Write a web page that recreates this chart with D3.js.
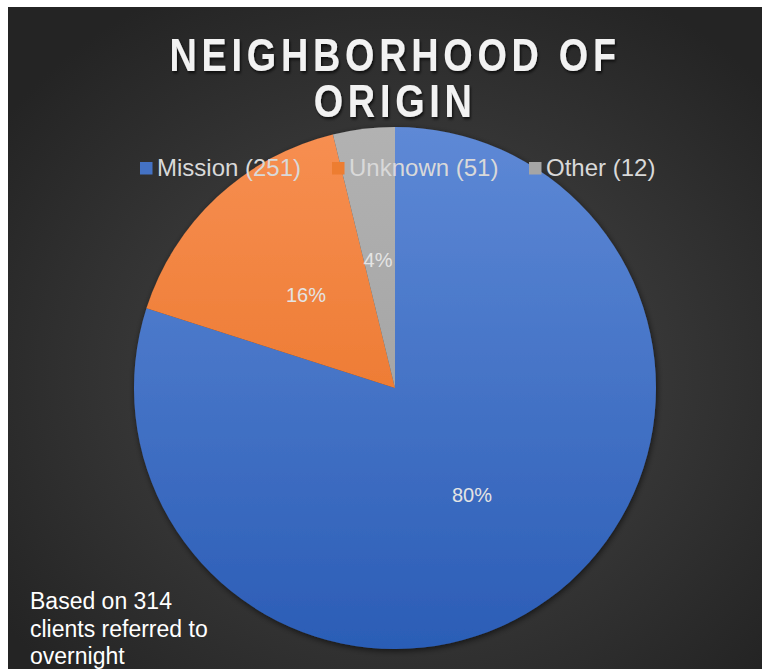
<!DOCTYPE html>
<html><head><meta charset="utf-8">
<script src="https://cdn.jsdelivr.net/npm/d3@7"></script>
<style>html,body{margin:0;padding:0;background:#fff;overflow:hidden}</style>
</head><body>
<svg id="c" width="763" height="669"></svg>
<script>
const categories = ["Mission", "Unknown", "Other"];
const counts = [251, 51, 12];
const percentLabels = ["80%", "16%", "4%"];
const titleLines = ["NEIGHBORHOOD OF", "ORIGIN"];
const noteLines = ["Based on 314", "clients referred to", "overnight"];

const svg = d3.select("#c");
const defs = svg.append("defs");
const bg = defs.append("radialGradient").attr("id","bg").attr("cx","52%").attr("cy","55%").attr("r","65%");
bg.append("stop").attr("offset","0%").attr("stop-color","#4a4a4a");
bg.append("stop").attr("offset","100%").attr("stop-color","#242424");

const cx = 395, cy = 388, R = 261;
const grads = [["#5e89d6","#2b5db6"],["#f78f52","#e56a18"],["#b2b2b2","#999999"]];
grads.forEach((g,i)=>{
  const lg = defs.append("linearGradient").attr("id","g"+i).attr("gradientUnits","userSpaceOnUse")
    .attr("x1",0).attr("y1",-R).attr("x2",0).attr("y2",R);
  lg.append("stop").attr("offset","0%").attr("stop-color",g[0]);
  lg.append("stop").attr("offset","100%").attr("stop-color",g[1]);
});
const sh = defs.append("filter").attr("id","sh").attr("x","-20%").attr("y","-20%").attr("width","140%").attr("height","140%");
sh.append("feDropShadow").attr("dx",1).attr("dy",2).attr("stdDeviation",3).attr("flood-color","#000").attr("flood-opacity",0.6);
const tsh = defs.append("filter").attr("id","tsh").attr("x","-10%").attr("y","-20%").attr("width","120%").attr("height","140%");
tsh.append("feDropShadow").attr("dx",1.5).attr("dy",2).attr("stdDeviation",1.5).attr("flood-color","#000").attr("flood-opacity",0.7);

svg.append("rect").attr("x",8).attr("y",7).attr("width",754).attr("height",662).attr("fill","url(#bg)");

const color = d3.scaleOrdinal().domain(categories).range(["url(#g0)","url(#g1)","url(#g2)"]);
const solid = d3.scaleOrdinal().domain(categories).range(["#4472c4","#ed7d31","#a5a5a5"]);
const pie = d3.pie().sort(null).value(d=>d.v);
const data = categories.map((c,i)=>({c, v:counts[i], lab:percentLabels[i]}));
const arcs = pie(data);
const arc = d3.arc().innerRadius(0).outerRadius(R);
const g = svg.append("g").attr("transform",`translate(${cx},${cy})`);
const pg = g.append("g").attr("filter","url(#sh)");
pg.selectAll("path").data(arcs).join("path").attr("d",arc).attr("fill",d=>color(d.data.c));

const labPos = [[77,107],[-89,-93],[-17,-128]];
g.selectAll("text.lab").data(arcs).join("text").attr("class","lab")
  .attr("x",(d,i)=>labPos[i][0]).attr("y",(d,i)=>labPos[i][1]).attr("dy","0.35em")
  .attr("text-anchor","middle").attr("fill","#e4e4e4")
  .attr("font-family","Liberation Sans, Arial, sans-serif").attr("font-size",20)
  .text(d=>d.data.lab);

// title (condensed, spaced caps) as one text block with two lines
const title = svg.append("text").attr("filter","url(#tsh)")
  .attr("transform","translate(393,71) scale(0.86,1.06)")
  .attr("text-anchor","middle")
  .attr("font-family","Liberation Sans, Arial, sans-serif").attr("font-weight","bold")
  .attr("font-size",44).attr("letter-spacing",5.5).attr("fill","#f2f2f2");
title.selectAll("tspan").data(titleLines).join("tspan")
  .attr("x",2.5).attr("y",(d,i)=>i*46/1.06).text(d=>d);

// legend
const legX = [140, 332, 529];
const lg = svg.append("g");
const items = lg.selectAll("g").data(data).join("g").attr("transform",(d,i)=>`translate(${legX[i]},168)`);
items.append("rect").attr("x",0).attr("y",-6).attr("width",12.5).attr("height",12.5).attr("fill",d=>solid(d.c));
items.append("text").attr("x",17).attr("y",8)
  .attr("font-family","Liberation Sans, Arial, sans-serif").attr("font-size",24).attr("fill","#d9d9d9")
  .text(d=>`${d.c} (${d.v})`);

// note
svg.append("g").selectAll("text").data(noteLines).join("text")
  .attr("x",30).attr("y",(d,i)=>609+i*27.5)
  .attr("font-family","Liberation Sans, Arial, sans-serif").attr("font-size",23).attr("fill","#ffffff")
  .text(d=>d);
</script>
</body></html>
